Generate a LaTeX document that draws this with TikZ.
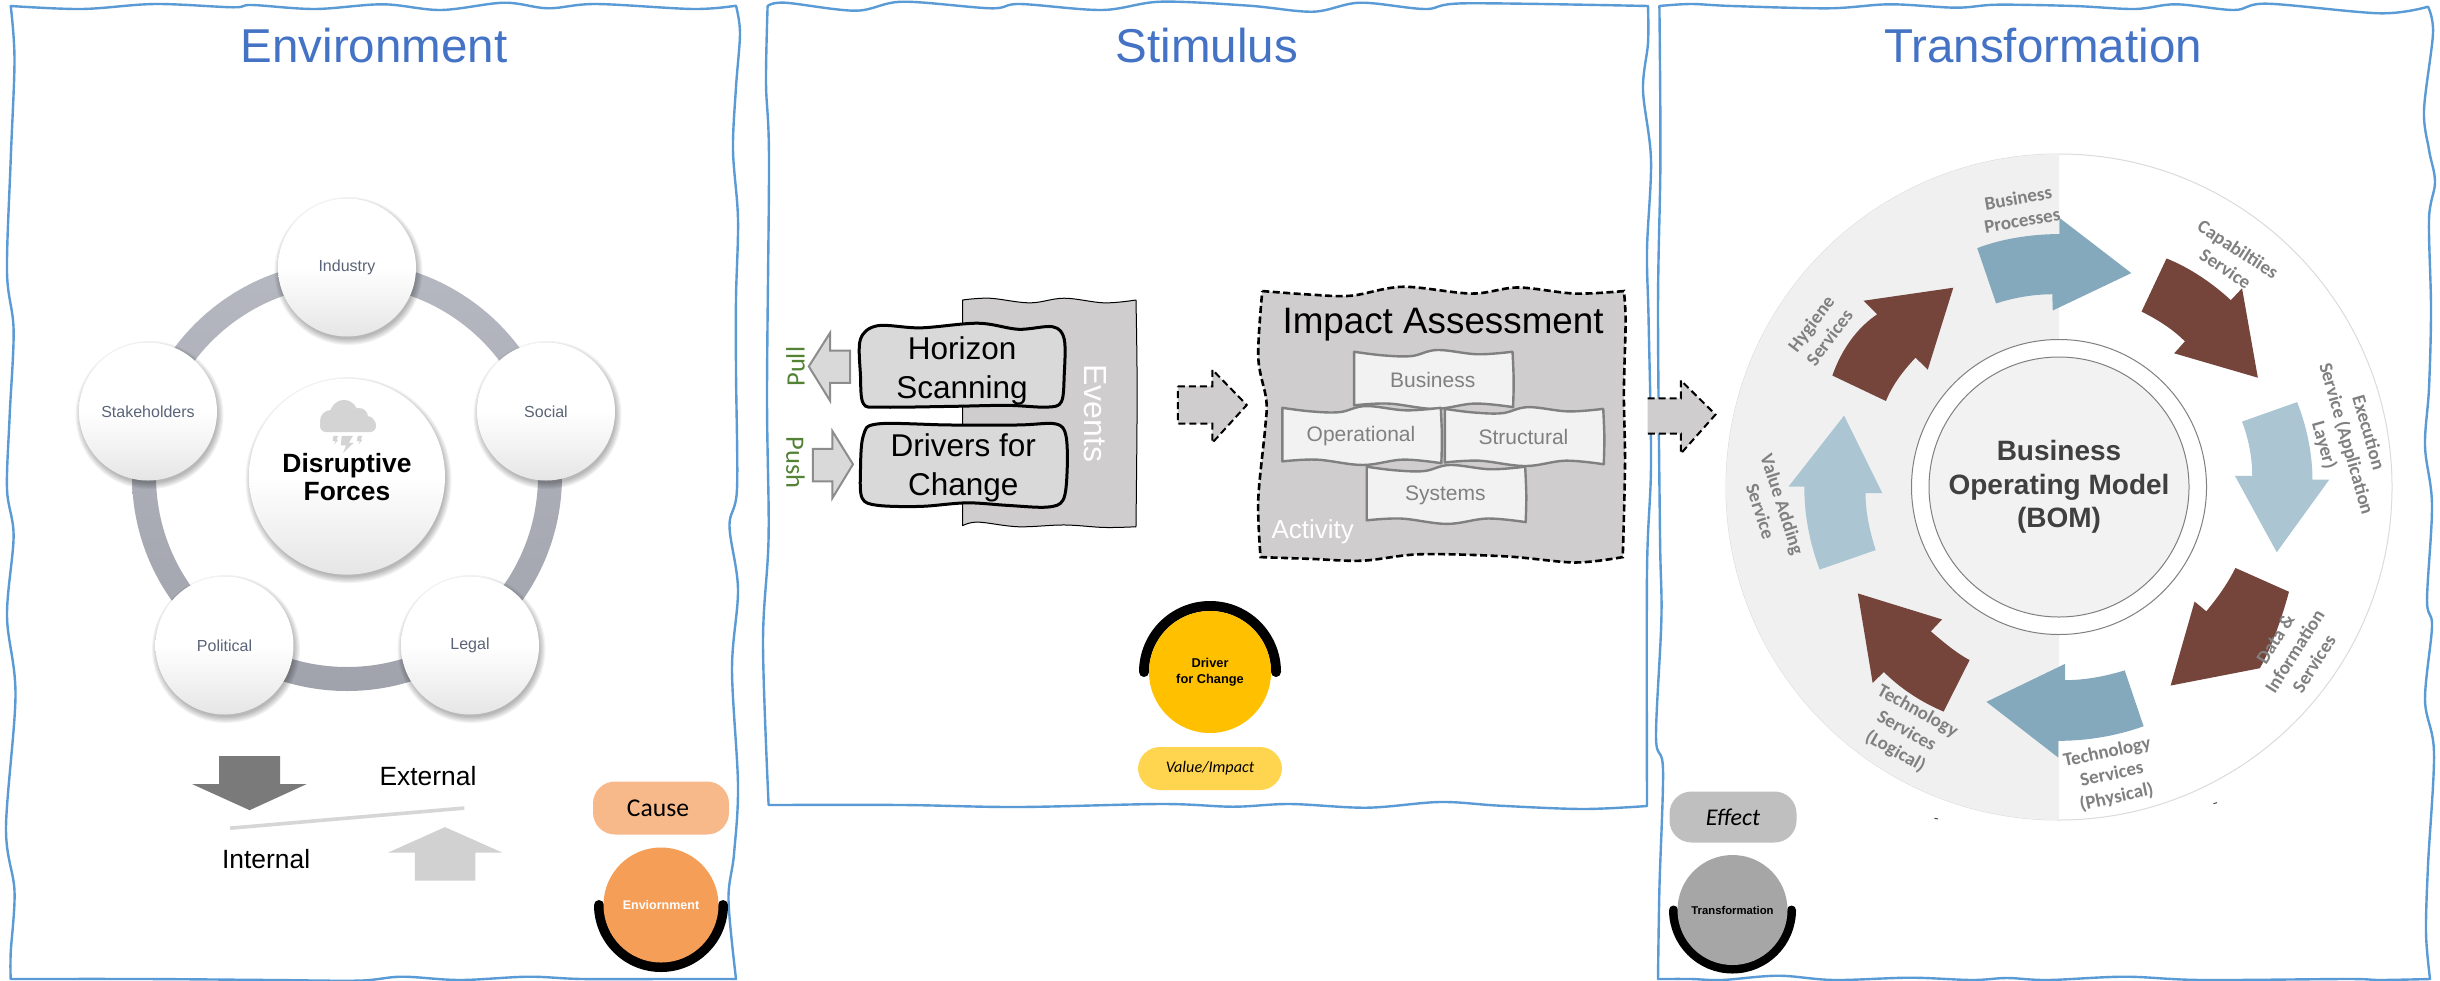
\documentclass[tikz,border=0pt]{standalone}
\usepackage{fontspec}
\setmainfont{Liberation Sans}
\newfontfamily\carlito{Carlito}
\definecolor{frameblue}{HTML}{5B9BD5}
\definecolor{titleblue}{HTML}{4472C4}
\definecolor{balltext}{HTML}{5A6478}
\definecolor{paperfill}{HTML}{CFCDCE}
\definecolor{boxfill}{HTML}{D9D9D9}
\definecolor{tealarrow}{HTML}{85A9BC}
\definecolor{palearrow}{HTML}{ABC5D3}
\definecolor{brownarrow}{HTML}{75453C}
\definecolor{cloudgrey}{HTML}{D4D4D4}
\definecolor{pushgreen}{HTML}{548235}
\definecolor{causefill}{HTML}{F8B98A}
\definecolor{orangefill}{HTML}{F59E57}
\definecolor{goldfill}{HTML}{FFC000}
\definecolor{pillyellow}{HTML}{FFD54F}
\definecolor{ringtop}{HTML}{B5B8C1}
\definecolor{ringbottom}{HTML}{A0A3AC}
\colorlet{ballbottom}{black!10}
\tikzset{
  zoomA/.style={shift={(0,150)},x=.4847pt,y=-.5294pt},
  zoomB/.style={shift={(760,250)},x=.574pt,y=-.3571pt},
  zoomC/.style={shift={(1640,130)},x=.5102pt,y=-.542pt},
  frameline/.style={draw=frameblue,line width=2.4pt,line join=round},
  paneltitle/.style={anchor=base,text=titleblue,font=\fontsize{47.5}{50}\selectfont},
  ball/.style={circle,inner sep=0pt,top color=white,bottom color=ballbottom,middle color=white,align=center},
  balllabel/.style={text=balltext,font=\fontsize{16}{19}\selectfont},
  blockdark/.style={fill=black!52,draw=none},
  blockpale/.style={fill=black!18,draw=none},
  pushpull/.style={fill=boxfill,draw=black!45,line width=2pt,line join=miter},
  dashblock/.style={fill=paperfill,draw=black,line width=2pt,dash pattern=on 7pt off 4pt},
  wavebox/.style={fill=boxfill,draw=black,line width=3pt,line join=round},
  boxtext/.style={align=center,font=\fontsize{31.5}{39}\selectfont},
  subpaper/.style={fill=black!5,draw=black!50,line width=2.4pt,line join=round},
  subtext/.style={text=black!50,font=\fontsize{21}{24}\selectfont},
  svc/.style={align=center,text=black!50,font=\carlito\bfseries\fontsize{19}{23}\selectfont},
  pill/.style={rounded corners=22pt,inner sep=0pt},
  blackarc/.style={draw=black,line cap=round},
}
\newcommand{\softball}[6]{%
  \foreach \gi in {0,...,5}{\fill[black,opacity=.05] (#2+1.5,#3+3.5) circle[radius=#4+5-\gi*1.2 pt];}
  \node[ball,minimum size=2*#4 pt,#5] (#1) at (#2,#3) {#6};}
\newcommand{\wavepaper}[4]{%
  \draw[subpaper,shift={(#1,#2)}] plot[smooth,tension=.6] coordinates {(0,0)(50,10)(100,12)(145,-5)(215,7)(275,0)}
    -- plot[smooth,tension=.6] coordinates {(276,0)(278,80)(277,152)}
    -- plot[smooth,tension=.6] coordinates {(277,155)(210,145)(140,160)(60,145)(0,150)} -- cycle;
  \node[subtext] (#3) at (#1+137,#2+80) {#4};}
\begin{document}
\begin{tikzpicture}[x=1pt,y=-1pt]
\useasboundingbox (0,0) rectangle (2440,980);
\fill[white] (0,0) rectangle (2440,980);

% ---------- panel frames
\draw[frameline] plot[smooth,tension=.55] coordinates {(10.7,6)(82,9)(155,4)(233,7.3)(252,5)(315,9)(383,4.3)(441,10)(504,2.7)(548,8.3)(596,4)(693,9)(736,5.7)}
 -- plot[smooth,tension=.55] coordinates {(736,5.7)(740,33)(736,87)(733,150)(738,219)(736,298)(736,372)(737,489)(729.5,526)(738,589)(732,669)(738,785)(734,854)(728.5,900)(736,979)}
 -- plot[smooth,tension=.55] coordinates {(736,979)(669,979)(582,979)(528,976.7)(460,980)(402,976.7)(359,980.6)(271,980)(145,979)(10.7,979)}
 -- plot[smooth,tension=.55] coordinates {(10.7,979)(10.7,953)(14.5,891)(6,828)(15.5,695)(7,616)(13.6,536)(7,489)(9.7,415)(13.6,330)(7,272)(10.7,160)(14.5,60)(10.7,6)} -- cycle;
\draw[frameline] plot[smooth,tension=.55] coordinates {(767.6,6)(785,2.7)(855.6,10.7)(902.6,1.7)(990.6,8.3)(1020,4)(1102,10)(1160.8,1.7)(1249,5.7)(1313,11.7)(1360,2.7)(1425,9)(1466,3.3)(1648,6)}
 -- plot[smooth,tension=.55] coordinates {(1648,6)(1648,43)(1643,90)(1651,160)(1647,250)(1648.6,321)(1651,464)(1647,571)(1647,806)}
 -- plot[smooth,tension=.55] coordinates {(1647,806)(1583,809)(1500,805.7)(1440,802)(1367,807.7)(1290,804)(1233,806.7)(1162,804)(1018,807)(903,805)(768.6,805)}
 -- plot[smooth,tension=.55] coordinates {(768.6,805)(763,643)(768.6,536)(767,393)(769,160)(766,83)(767.6,6)} -- cycle;
\draw[frameline] plot[smooth,tension=.55] coordinates {(1659.4,6)(1691,4)(1732,6)(1829,8.3)(1890,4.3)(1956,7.7)(1997,4.7)(2074,6)(2135,9)(2176,4.3)(2234,10)(2267.5,3.7)(2380,13.3)(2428,6.7)}
 -- plot[smooth,tension=.55] coordinates {(2428,6.7)(2433,33)(2424,110)(2429,150)(2435,182)(2429,219)(2431,309)(2429,388)(2425,446)(2432,505)(2427,600)(2432,626)(2425,700)(2434,753)(2428,865)(2426,933)(2430,979)}
 -- plot[smooth,tension=.55] coordinates {(2430,979)(2380,980)(2347,979)(2201,980)(2125,976.7)(2048,980)(2007,978)(1972,980)(1910,977.7)(1834,980)(1778,975.7)(1722,980)(1691,979)(1658,979)}
 -- plot[smooth,tension=.55] coordinates {(1658,979)(1659.4,889)(1663,769.6)(1656,737)(1661.4,618)(1660,536)(1658,309)(1660.4,160)(1659.4,6)} -- cycle;

\node[paneltitle] (envtitle) at (374,62.3) {Environment};
\node[paneltitle] (stimtitle) at (1206.8,62.3) {Stimulus};
\node[paneltitle] (transtitle) at (2043,62.3) {Transformation};

% ---------- environment panel
\path[even odd rule,top color=ringtop,bottom color=ringbottom] (347,476) circle[radius=215pt] (347,476) circle[radius=191pt];
\softball{industry}{347}{267.5}{69}{balllabel}{Industry}
\softball{social}{546}{411.5}{69}{balllabel}{Social}
\softball{stake}{148}{411.5}{69}{balllabel}{Stakeholders}
\softball{political}{224.5}{645.5}{69}{balllabel}{Political}
\softball{legal}{470}{645.5}{69}{balllabel}{Legal}
\softball{disrupt}{347}{476.6}{98}{align=center,font=\bfseries\fontsize{26.4}{27.5}\selectfont}{}
\node[align=center,font=\bfseries\fontsize{26.4}{27.5}\selectfont] (disrupttext) at (347,477) {Disruptive\\Forces};
\fill[cloudgrey] (331,421) circle[radius=11pt] (344,414) circle[radius=14pt] (359,417) circle[radius=9pt] (367,424) circle[radius=8pt];
\fill[cloudgrey,rounded corners=6pt] (320,419) rectangle (376,432);
\begin{scope}[zoomA]
 \fill[cloudgrey] (705,540)--(728,540)--(720,553)--(730,553)--(708,572)--(714,558)--(703,558)--cycle;
 \fill[cloudgrey] (688,540)--(698,540)--(694,547)--(698,547)--(690,556)--(692,550)--(686,550)--cycle;
 \fill[cloudgrey] (738,540)--(748,540)--(744,547)--(748,547)--(740,556)--(742,550)--(736,550)--cycle;
 \fill[blockdark] (452,1145)--(578,1145)--(578,1198)--(632,1198)--(515,1247)--(397,1198)--(452,1198)--cycle;
 \fill[blockpale] (856,1380)--(981,1380)--(981,1327)--(1036,1327)--(918,1279)--(801,1327)--(856,1327)--cycle;
 \coordinate (balA) at (475,1281);
 \coordinate (balB) at (958,1243);
 \node[font=\fontsize{26.4}{30}\selectfont] (external) at (883,1182) {External};
 \node[font=\fontsize{26.4}{30}\selectfont] (internal) at (549,1339) {Internal};
\end{scope}
\draw[black!16,line width=3.6pt] (balA) -- (balB);
\node[pill,fill=causefill,minimum width=136pt,minimum height=53pt,font=\carlito\fontsize{25.6}{30}\selectfont] (cause) at (661,808) {\hspace{-6pt}Cause};
\draw[blackarc,line width=10pt] (599,905) arc[start angle=180,end angle=360,radius=62pt];
\node[circle,fill=orangefill,minimum size=115pt,inner sep=0pt,text=white,font=\bfseries\fontsize{12.5}{14}\selectfont] (envcircle) at (661,905) {Enviornment};

% ---------- stimulus panel
\begin{scope}[zoomB]
 \draw[fill=paperfill,draw=black,line width=1pt,line join=round]
   plot[smooth,tension=.6] coordinates {(353,140)(400,135)(470,148)(530,135)(600,148)(655,140)}
   -- plot[smooth,tension=.6] coordinates {(655,140)(657,400)(655,775)}
   -- plot[smooth,tension=.6] coordinates {(655,775)(600,777)(530,770)(450,775)(380,762)(353,772)} -- cycle;
 \node[text=white,rotate=-90,font=\fontsize{32}{36}\selectfont] (events) at (585,457) {Events};
 \draw[wavebox] plot[smooth cycle,tension=.55] coordinates {(205,212)(280,218)(380,205)(450,222)(510,215)(530,250)(530,350)(525,425)(500,440)(430,435)(330,438)(210,440)(180,430)(175,350)(175,250)};
 \node[boxtext] (horizon) at (352,338) {Horizon\\Scanning};
 \draw[wavebox] plot[smooth cycle,tension=.55] coordinates {(205,487)(330,490)(450,490)(515,487)(533,520)(535,620)(528,700)(500,720)(430,715)(360,708)(280,718)(205,715)(178,695)(175,620)(180,520)};
 \node[boxtext] (drivers) at (354,611) {Drivers for\\Change};
 \draw[pushpull] (157,282)--(122,282)--(122,232)--(85,326)--(122,422)--(122,372)--(157,372)--cycle;
 \draw[pushpull] (92,557)--(126,557)--(126,507)--(162,600)--(126,695)--(126,648)--(92,648)--cycle;
 \node[rotate=90,text=pushgreen,font=\carlito\fontsize{26.5}{30}\selectfont] (pull) at (62,327) {Pull};
 \node[rotate=-90,text=pushgreen,font=\carlito\fontsize{26.5}{30}\selectfont] (push) at (62,596) {Push};
 \draw[dashblock] (728,382)--(788,382)--(788,335)--(848,434)--(788,540)--(788,486)--(728,486)--cycle;
 \draw[fill=paperfill,draw=black,line width=2.6pt,dash pattern=on 7pt off 3.5pt]
   plot[smooth,tension=.55] coordinates {(875,115)(960,125)(1030,128)(1120,103)(1240,122)(1320,105)(1420,122)(1505,115)}
   -- plot[smooth,tension=.55] coordinates {(1505,115)(1508,200)(1505,400)(1507,600)(1503,860)}
   -- plot[smooth,tension=.55] coordinates {(1503,860)(1420,875)(1300,858)(1150,852)(1050,870)(960,865)(872,860)}
   -- plot[smooth,tension=.55] coordinates {(872,860)(868,700)(880,500)(882,420)(868,300)(875,115)} -- cycle;
 \node[font=\fontsize{36.8}{40}\selectfont] (impact) at (1190,210) {Impact Assessment};
 \wavepaper{1035}{285}{business}{Business}
 \wavepaper{910}{442}{operational}{Operational}
 \wavepaper{1193}{445}{structural}{Structural}
 \wavepaper{1057}{607}{systems}{Systems}
 \node[text=white,font=\fontsize{26}{30}\selectfont] (activity) at (963,790) {Activity};
\end{scope}
\draw[blackarc,line width=10pt] (1144,672) arc[start angle=180,end angle=0,radius=66pt];
\node[circle,fill=goldfill,minimum size=122pt,inner sep=0pt,align=center,font=\bfseries\fontsize{12.8}{16}\selectfont] (drivercircle) at (1210,672) {Driver\\for Change};
\node[pill,fill=pillyellow,minimum width=144pt,minimum height=43pt,font=\carlito\itshape\fontsize{16.2}{20}\selectfont] (valueimpact) at (1210,768.5) {Value/Impact};

% ---------- transformation panel
\begin{scope}[zoomC]
 \draw[dashblock] (15,495)--(80,495)--(80,462)--(148,525)--(80,597)--(80,560)--(15,560);
\end{scope}
\draw[black!14,line width=1pt] (2059,487) circle[radius=333pt];
\fill[black!6] (2059,154) arc[start angle=90,end angle=270,radius=333pt] -- cycle;
\draw[black!50,line width=1pt,fill=white] (2059,487) circle[radius=147.5pt];
\node[circle,draw=black!50,line width=1pt,fill=black!5,minimum size=260pt,inner sep=0pt,align=center,text=black!75,font=\bfseries\fontsize{28}{33.5}\selectfont] (bom) at (2059,487) {Business\\Operating Model\\(BOM)};
\begin{scope}[zoomC]
 \fill[tealarrow] (661,218) .. controls (710,200) and (770,192) .. (822,192) -- (822,162) -- (963,264) -- (809,333) -- (808,303) .. controls (770,303) and (730,310) .. (698,320) -- cycle;
 \fill[brownarrow] (1032,237) .. controls (1080,255) and (1125,285) .. (1158,314) -- (1180,292) -- (1211,457) -- (1047,412) -- (1068,390) .. controls (1045,368) and (1015,350) .. (983,335) -- cycle;
 \fill[palearrow] (1180,538) -- (1288,502) .. controls (1308,550) and (1318,600) .. (1318,645) -- (1351,645) -- (1248,779) -- (1166,638) -- (1200,638) .. controls (1200,605) and (1193,570) .. (1180,538) -- cycle;
 \fill[brownarrow] (1167,808) -- (1272,852) .. controls (1258,900) and (1240,950) .. (1215,993) -- (1040,1025) -- (1087,870) -- (1110,888) .. controls (1130,865) and (1150,840) .. (1167,808) -- cycle;
 \fill[tealarrow] (950,997) -- (987,1100) .. controls (935,1118) and (875,1127) .. (820,1127) -- (820,1158) -- (679,1055) -- (833,985) -- (833,1015) .. controls (872,1015) and (912,1008) .. (950,997) -- cycle;
 \fill[brownarrow] (646,978) -- (595,1073) .. controls (550,1055) and (510,1030) .. (478,1000) -- (456,1020) -- (427,855) -- (592,903) -- (570,925) .. controls (595,945) and (620,965) .. (646,978) -- cycle;
 \fill[palearrow] (462,775) -- (352,811) .. controls (332,760) and (322,710) .. (322,658) -- (291,658) -- (400,527) -- (475,670) -- (442,670) .. controls (442,705) and (450,740) .. (462,775) -- cycle;
 \fill[brownarrow] (482,500) -- (377,453) .. controls (395,405) and (425,365) .. (465,340) -- (438,315) -- (614,291) -- (564,442) -- (540,420) .. controls (515,445) and (495,470) .. (482,500) -- cycle;
 \node[svc,rotate=10] (s1) at (745,146) {Business\\Processes};
 \node[svc,rotate=-33] (s2) at (1160,238) {Capabiltiies\\Service};
 \node[svc,rotate=-74] (s3) at (1383,570) {Execution\\Service  (Application\\Layer)};
 \node[svc,rotate=57.5] (s4) at (1283,962) {Data \&\\Information\\Services};
 \node[svc,rotate=12] (s5) at (925,1190) {Technology\\Services\\(Physical)};
 \node[svc,rotate=-29] (s6) at (522,1110) {Technology\\Services\\(Logical)};
 \node[svc,rotate=-72] (s7) at (258,697) {Value Adding\\Service};
 \node[svc,rotate=53] (s8) at (353,370) {Hygiene\\Services};
 \draw[black!70,line width=1pt] (577,1270) -- (584,1271);
 \draw[black!70,line width=1pt] (1124,1243) -- (1131,1241);
\end{scope}
\node[pill,fill=black!25,minimum width=127pt,minimum height=51pt,font=\carlito\itshape\fontsize{24}{28}\selectfont] (effect) at (1733,817) {Effect};
\draw[blackarc,line width=9pt] (1673.5,910) arc[start angle=180,end angle=360,radius=59pt];
\node[circle,fill=black!35,minimum size=110pt,inner sep=0pt,font=\bfseries\fontsize{11.3}{14}\selectfont] (transcircle) at (1732.5,910) {Transformation};
\end{tikzpicture}
\end{document}
